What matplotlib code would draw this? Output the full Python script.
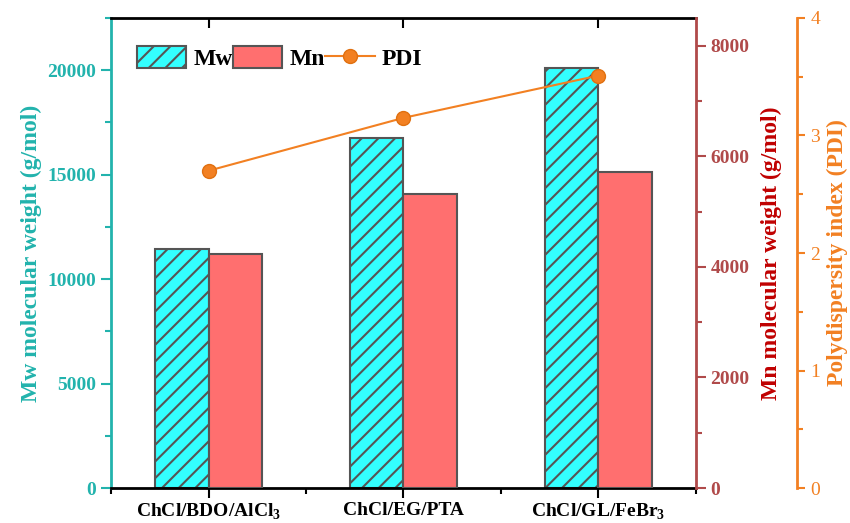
import matplotlib
matplotlib.use("Agg")
import matplotlib.pyplot as plt
import numpy as np
from matplotlib.patches import Patch
from matplotlib.lines import Line2D
from matplotlib.ticker import MultipleLocator, FixedLocator

plt.rcParams["font.family"] = ["Liberation Serif", "DejaVu Serif"]
plt.rcParams["mathtext.fontset"] = "custom"
plt.rcParams["mathtext.bf"] = "Liberation Serif:bold"
plt.rcParams["mathtext.rm"] = "Liberation Serif:bold"
plt.rcParams["hatch.linewidth"] = 1.5
plt.rcParams["hatch.color"] = "#555555"

# ---------- data ----------
categories = [r"ChCl/BDO/AlCl$_\mathbf{3}$", "ChCl/EG/PTA", r"ChCl/GL/FeBr$_\mathbf{3}$"]
mw = [11450, 16750, 20100]
mn = [4240, 5320, 5710]
pdi = [2.70, 3.15, 3.51]

TEAL = "#22B3AD"
CYAN = "#33FFFF"
SALMON = "#FF6F6F"
EDGE = "#555555"
MN_AX = "#B04A4A"
MN_LAB = "#C00000"
ORANGE = "#F28022"

fig = plt.figure(figsize=(8.5, 5.23), dpi=100)
ax = fig.add_axes([0.1306, 0.0669, 0.6882, 0.8987])
ax2 = ax.twinx()
ax3 = ax.twinx()

x = np.arange(len(categories))
w = 0.275

ax.bar(x - w / 2, mw, w, color=CYAN, edgecolor=EDGE, linewidth=1.5, hatch="//")
ax2.bar(x + w / 2, mn, w, color=SALMON, edgecolor=EDGE, linewidth=1.5)
ax3.plot(x, pdi, color=ORANGE, lw=1.5, marker="o", ms=10,
         markeredgecolor="#E07010", markerfacecolor=ORANGE, zorder=5)

ax.set_xlim(-0.5, 2.5)
ax.set_ylim(0, 22500)
ax2.set_ylim(0, 8500)
ax3.set_ylim(0, 4)

# x axis
ax.set_xticks(x)
ax.set_xticklabels(categories, fontsize=14, fontweight="bold")
ax.xaxis.set_minor_locator(FixedLocator([-0.5, 0.5, 1.5, 2.5]))
ax.tick_params(axis="x", which="major", direction="out", length=7, width=1.5, pad=3)
ax.tick_params(axis="x", which="minor", direction="out", length=4, width=1.5)
ax2.xaxis.set_visible(True)
ax2.tick_params(axis="x", which="major", bottom=False, top=True, labelbottom=False,
                labeltop=False, direction="in", length=7, width=1.5)
ax2.tick_params(axis="x", which="minor", bottom=False, top=False)

# left Mw axis
ax.yaxis.set_major_locator(MultipleLocator(5000))
ax.yaxis.set_minor_locator(MultipleLocator(2500))
ax.tick_params(axis="y", which="major", colors=TEAL, length=7, width=1.5, labelsize=14)
ax.tick_params(axis="y", which="minor", colors=TEAL, length=4, width=1.5)
for t in ax.get_yticklabels():
    t.set_fontweight("bold")
ax.set_ylabel("Mw molecular weight (g/mol)", color=TEAL, fontsize=17,
              fontweight="bold", labelpad=4)

# right Mn axis
ax2.yaxis.set_major_locator(MultipleLocator(2000))
ax2.yaxis.set_minor_locator(MultipleLocator(1000))
ax2.tick_params(axis="y", which="major", colors=MN_AX, length=7, width=1.5, labelsize=14)
ax2.tick_params(axis="y", which="minor", colors=MN_AX, length=4, width=1.5)
for t in ax2.get_yticklabels():
    t.set_fontweight("bold")
ax2.set_ylabel("Mn molecular weight (g/mol)", color=MN_LAB, fontsize=17,
               fontweight="bold", labelpad=8)

# PDI axis
ax3.spines["right"].set_position(("axes", 1.1726))
ax3.yaxis.set_major_locator(MultipleLocator(1))
ax3.yaxis.set_minor_locator(MultipleLocator(0.5))
ax3.tick_params(axis="y", which="major", colors=ORANGE, length=6, width=1.5, labelsize=14)
ax3.tick_params(axis="y", which="minor", colors=ORANGE, length=4, width=1.5)
ax3.set_ylabel("Polydispersity index (PDI)", color=ORANGE, fontsize=17,
               fontweight="bold", labelpad=5)

# spines
for s in ["top", "bottom"]:
    ax.spines[s].set_color("black")
    ax.spines[s].set_linewidth(2)
ax.spines["left"].set_color(TEAL)
ax.spines["left"].set_linewidth(2)
ax.spines["right"].set_visible(False)
for a in (ax2, ax3):
    for s in ["top", "bottom", "left"]:
        a.spines[s].set_visible(False)
ax2.spines["right"].set_color(MN_AX)
ax2.spines["right"].set_linewidth(2)
ax3.spines["right"].set_color(ORANGE)
ax3.spines["right"].set_linewidth(2)

# legend
handles = [
    Patch(facecolor=CYAN, edgecolor=EDGE, linewidth=1.5, hatch="//"),
    Patch(facecolor=SALMON, edgecolor=EDGE, linewidth=1.5),
    Line2D([0], [0], color=ORANGE, lw=1.5, marker="o", ms=10,
           markeredgecolor="#E07010", markerfacecolor=ORANGE),
]
ax3.legend(handles, ["Mw", "Mn", "PDI"], ncol=3, loc="upper left",
           bbox_to_anchor=(0.02, 0.97), frameon=False,
           prop={"weight": "bold", "size": 17},
           handlelength=2.1, handleheight=1.05, handletextpad=0.3,
           columnspacing=0.0, borderaxespad=0.2)

fig.savefig("out.png", dpi=100)
